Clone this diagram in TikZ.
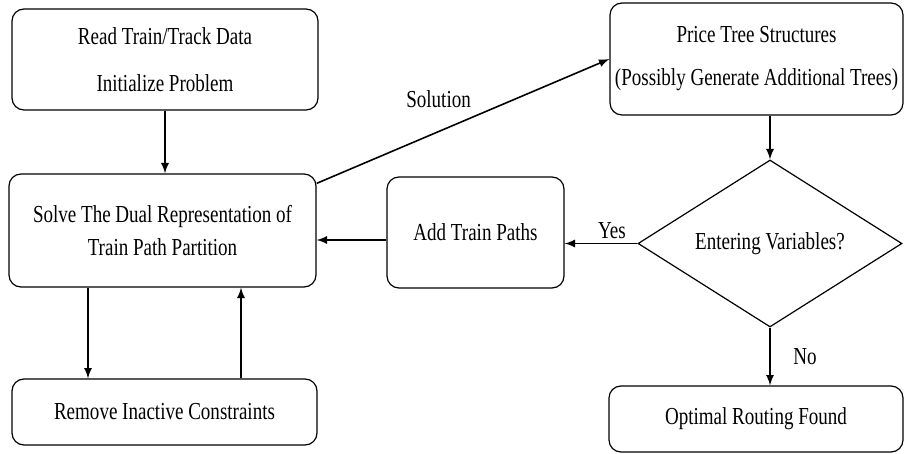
\documentclass[tikz,border=0pt]{standalone}
\usepackage{fontspec}
\setmainfont{Liberation Serif}[FakeStretch=0.78]
\usetikzlibrary{arrows,shapes.geometric}
\tikzstyle{task}=[draw, rounded corners=6pt, align=center, inner sep=0pt, line width=0.6pt, font=\fontsize{12.2}{14.5}\selectfont]
\tikzstyle{decide}=[draw, diamond, aspect=1.6, inner sep=0pt, line width=0.6pt, minimum width=132pt, minimum height=83.5pt, font=\fontsize{12.2}{14.5}\selectfont]
\tikzstyle{conn}=[line width=0.8pt, -latex]
\tikzstyle{lbl}=[font=\fontsize{12.2}{14.5}\selectfont]
\newcommand{\task}{\node[task]}

\begin{document}
\begin{tikzpicture}[x=0.5pt,y=-0.5pt]
	\useasboundingbox (0,0) rectangle (904,454);
	\task (read) at (165,59.5) [minimum width=153pt, minimum height=50.5pt] {Read Train/Track Data\\[9pt]Initialize Problem};
	\task (solve) at (162.5,230.5) [minimum width=153.5pt, minimum height=56.5pt] {Solve The Dual Representation of\\[2pt]Train Path Partition};
	\task (remove) at (164.5,412) [minimum width=152.5pt, minimum height=33pt] {Remove Inactive Constraints};
	\task (add) at (475.5,232.5) [minimum width=88.5pt, minimum height=55.5pt] {\raisebox{-2.5pt}{Add Train Paths}};
	\task (price) at (756.5,59) [minimum width=146.5pt, minimum height=56pt] {Price Tree Structures\\[7pt](Possibly Generate Additional Trees)};
	\node[decide] (enter) at (770,243.5) {Entering Variables?};
	\task (optimal) at (756,419) [minimum width=147pt, minimum height=33pt] {Optimal Routing Found};

	\path[conn]
		(read.south) edge (read.south |- solve.north)
		([yshift=-5pt]solve.north east) edge node[lbl, pos=.55, above left, inner sep=3pt] {Solution} (price.west)
		(price.south -| enter.north) edge (enter.north)
		(enter.west) edge node[lbl, pos=.35, above, inner sep=2pt] {Yes} (enter.west -| add.east)
		([yshift=-3.75pt]add.west) edge ([yshift=-3.75pt]add.west -| solve.east)
		(enter.south) edge node[lbl, right=8pt] {No} (enter.south |- optimal.north)
		([xshift=-37.25pt]solve.south) edge ([xshift=-37.25pt]solve.south |- remove.north)
		([xshift=39.25pt]solve.south |- remove.north) edge ([xshift=39.25pt]solve.south)
	;
\end{tikzpicture}
\end{document}
